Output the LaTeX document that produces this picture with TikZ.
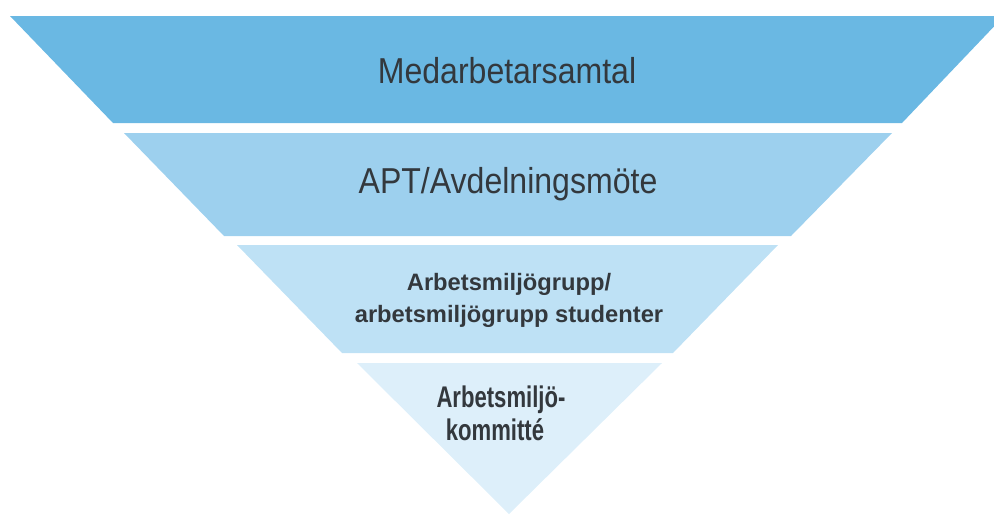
\documentclass[tikz,border=0pt]{standalone}
\usepackage{fontspec}
\setmainfont{Liberation Sans}
\newfontfamily\narrowfont{Liberation Sans}[FakeStretch=0.89]
\newfontfamily\tightfont{Liberation Sans}[FakeStretch=0.74]
\definecolor{bandA}{HTML}{6AB8E3}
\definecolor{bandB}{HTML}{9DD0EE}
\definecolor{bandC}{HTML}{BEE1F5}
\definecolor{bandD}{HTML}{DDEFFA}
\definecolor{label}{HTML}{33383D}
\begin{document}
\begin{tikzpicture}[x=0.02cm,y=-0.02cm,
  big/.style={text=label,inner sep=0pt,anchor=base,font=\narrowfont\fontsize{20.5pt}{24pt}\selectfont},
  small/.style={text=label,inner sep=0pt,anchor=base,font=\bfseries\fontsize{13.5pt}{16pt}\selectfont},
  tip/.style={text=label,inner sep=0pt,anchor=base,font=\tightfont\bfseries\fontsize{17pt}{20pt}\selectfont}]
\useasboundingbox (0,0) rectangle (994,514);
\fill[bandA] (10,16) -- (1004,16) -- (902,123) -- (113,123) -- cycle;
\fill[bandB] (124,133) -- (892,133) -- (791,236) -- (224,236) -- cycle;
\fill[bandC] (237,245) -- (778,245) -- (673,353) -- (342,353) -- cycle;
\fill[bandD] (357,363) -- (662,363) -- (509,514) -- cycle;
\node[big] (medarb) at (507,83) {Medarbetarsamtal};
\node[big] (apt) at (508,193) {APT/Avdelningsmöte};
\node[small] (grupp) at (509,290) {Arbetsmiljögrupp/};
\node[small] (stud) at (509,322) {arbetsmiljögrupp studenter};
\node[tip] (amk) at (501,407) {Arbetsmiljö-};
\node[tip] (komm) at (495,440) {kommitté};
\end{tikzpicture}
\end{document}
